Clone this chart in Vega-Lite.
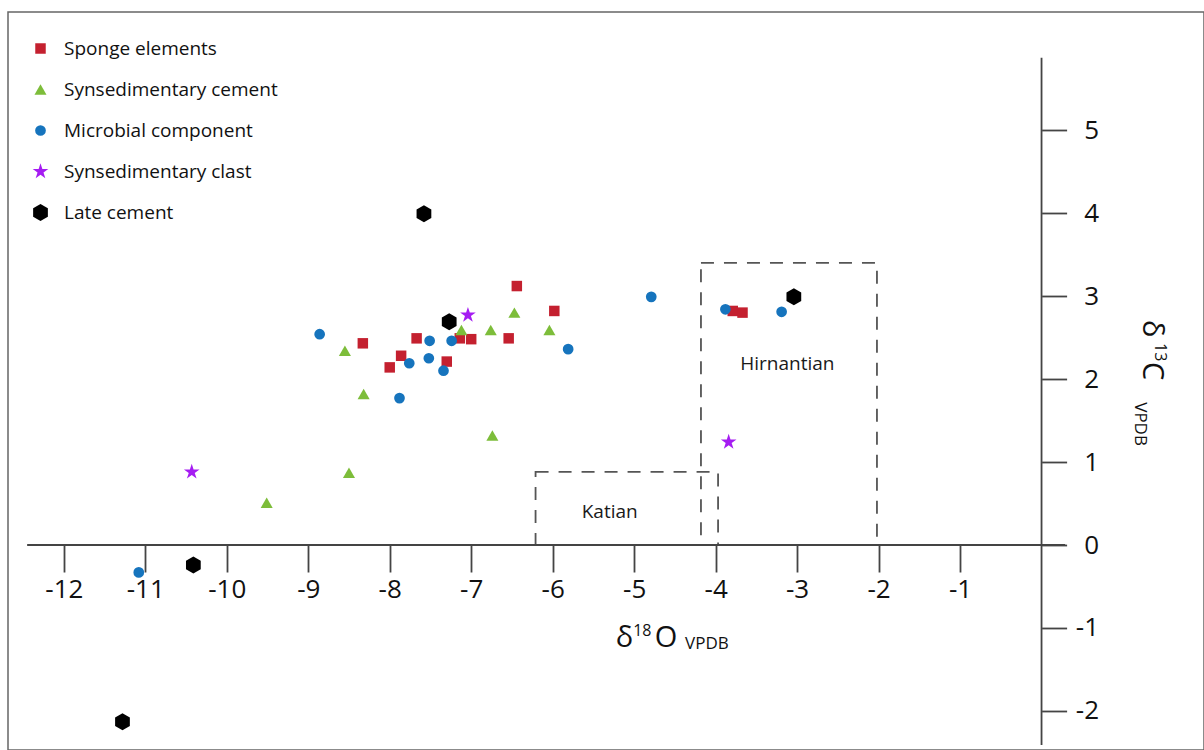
{
  "$schema": "https://vega.github.io/schema/vega-lite/v6.json",
  "width": 1196,
  "height": 738,
  "autosize": "none",
  "padding": {"left": 8, "top": 12, "right": 0, "bottom": 0},
  "background": "white",
  "config": {
    "view": {"stroke": "#666666", "strokeWidth": 1.5},
    "font": "Open Sans",
    "legend": {
      "orient": "none",
      "legendX": 23,
      "legendY": 27,
      "title": null,
      "labelFont": "Open Sans",
      "labelFontSize": 19,
      "labelColor": "#111111",
      "labelLimit": 400,
      "rowPadding": 21,
      "labelOffset": 14,
      "symbolStrokeWidth": 0,
      "symbolOpacity": 1
    }
  },
  "datasets": {
    "pts": [
      {"type": "Sponge elements", "x": -6.44, "y": 3.12},
      {"type": "Sponge elements", "x": -5.98, "y": 2.82},
      {"type": "Sponge elements", "x": -8.33, "y": 2.43},
      {"type": "Sponge elements", "x": -7.67, "y": 2.49},
      {"type": "Sponge elements", "x": -7.86, "y": 2.28},
      {"type": "Sponge elements", "x": -8.0, "y": 2.14},
      {"type": "Sponge elements", "x": -7.3, "y": 2.21},
      {"type": "Sponge elements", "x": -7.14, "y": 2.49},
      {"type": "Sponge elements", "x": -7.0, "y": 2.48},
      {"type": "Sponge elements", "x": -6.54, "y": 2.49},
      {"type": "Sponge elements", "x": -3.79, "y": 2.82},
      {"type": "Sponge elements", "x": -3.67, "y": 2.8},
      {"type": "Synsedimentary cement", "x": -8.55, "y": 2.34},
      {"type": "Synsedimentary cement", "x": -8.32, "y": 1.82},
      {"type": "Synsedimentary cement", "x": -7.12, "y": 2.59},
      {"type": "Synsedimentary cement", "x": -6.76, "y": 2.59},
      {"type": "Synsedimentary cement", "x": -6.47, "y": 2.8},
      {"type": "Synsedimentary cement", "x": -6.04, "y": 2.59},
      {"type": "Synsedimentary cement", "x": -6.74, "y": 1.32},
      {"type": "Synsedimentary cement", "x": -8.5, "y": 0.87},
      {"type": "Synsedimentary cement", "x": -9.51, "y": 0.51},
      {"type": "Microbial component", "x": -8.86, "y": 2.54},
      {"type": "Microbial component", "x": -7.51, "y": 2.46},
      {"type": "Microbial component", "x": -7.24, "y": 2.46},
      {"type": "Microbial component", "x": -7.76, "y": 2.19},
      {"type": "Microbial component", "x": -7.52, "y": 2.25},
      {"type": "Microbial component", "x": -7.34, "y": 2.1},
      {"type": "Microbial component", "x": -7.88, "y": 1.77},
      {"type": "Microbial component", "x": -5.81, "y": 2.36},
      {"type": "Microbial component", "x": -4.79, "y": 2.99},
      {"type": "Microbial component", "x": -3.88, "y": 2.84},
      {"type": "Microbial component", "x": -3.19, "y": 2.81},
      {"type": "Microbial component", "x": -11.08, "y": -0.33},
      {"type": "Synsedimentary clast", "x": -7.04, "y": 2.77},
      {"type": "Synsedimentary clast", "x": -3.84, "y": 1.24},
      {"type": "Synsedimentary clast", "x": -10.43, "y": 0.88},
      {"type": "Late cement", "x": -7.58, "y": 3.99},
      {"type": "Late cement", "x": -7.27, "y": 2.69},
      {"type": "Late cement", "x": -3.04, "y": 2.99},
      {"type": "Late cement", "x": -10.41, "y": -0.24},
      {"type": "Late cement", "x": -11.28, "y": -2.13}
    ],
    "boxes": [
      {"period": "Katian", "x": -6.21, "x2": -3.97, "y": 0, "y2": 0.88},
      {"period": "Hirnantian", "x": -4.18, "x2": -2.02, "y": 0, "y2": 3.4}
    ],
    "hline": [{"x": -12.45, "x2": 0.29, "y": 0}],
    "vline": [{"x": 0, "y": -2.41, "y2": 5.87}],
    "labels": [
      {"kind": "period", "text": "Katian", "x": -5.3, "y": 0.4},
      {"kind": "period", "text": "Hirnantian", "x": -3.12, "y": 2.18},
      {"kind": "big", "text": "δ", "x": -5.225, "y": -1.229},
      {"kind": "big", "text": "O", "x": -4.746, "y": -1.229},
      {"kind": "sup", "text": "18", "x": -5.012, "y": -1.1},
      {"kind": "sub", "text": "VPDB", "x": -4.375, "y": -1.253},
      {"kind": "ybig", "text": "δ", "x": 1.245, "y": 2.71},
      {"kind": "ybig", "text": "C", "x": 1.245, "y": 2.205},
      {"kind": "ysup", "text": "13", "x": 1.39, "y": 2.434},
      {"kind": "ysub", "text": "VPDB", "x": 1.15, "y": 1.72}
    ]
  },
  "layer": [
    {
      "data": {"name": "boxes"},
      "mark": {"type": "rect", "fillOpacity": 0, "stroke": "#555555", "strokeWidth": 1.8, "strokeDash": [13, 10]},
      "encoding": {
        "x": {"field": "x", "type": "quantitative", "scale": {"domain": [-12.685, 1.994], "nice": false, "zero": false}},
        "x2": {"field": "x2"},
        "y": {"field": "y", "type": "quantitative", "scale": {"domain": [-2.47, 6.422], "nice": false, "zero": false}},
        "y2": {"field": "y2"}
      }
    },
    {
      "data": {"name": "hline"},
      "mark": {"type": "rule", "color": "#444444", "strokeWidth": 1.8},
      "encoding": {
        "x": {"field": "x", "type": "quantitative"},
        "x2": {"field": "x2"},
        "y": {"field": "y", "type": "quantitative"}
      }
    },
    {
      "data": {"name": "vline"},
      "mark": {"type": "rule", "color": "#444444", "strokeWidth": 1.8},
      "encoding": {
        "x": {"field": "x", "type": "quantitative"},
        "y": {"field": "y", "type": "quantitative"},
        "y2": {"field": "y2"}
      }
    },
    {
      "data": {"name": "pts"},
      "mark": {"type": "point", "filled": true, "opacity": 1, "strokeWidth": 0},
      "encoding": {
        "x": {
          "field": "x", "type": "quantitative",
          "scale": {"domain": [-12.685, 1.994], "nice": false, "zero": false},
          "axis": {
            "title": null, "orient": "bottom", "offset": -205, "domain": false, "grid": false,
            "values": [-12, -11, -10, -9, -8, -7, -6, -5, -4, -3, -2, -1],
            "tickSize": 27, "tickColor": "#444444", "tickWidth": 1.8,
            "labelFont": "Open Sans", "labelFontSize": 26, "labelColor": "#111111",
            "labelPadding": 4, "labelExpr": "'' + datum.value"
          }
        },
        "y": {
          "field": "y", "type": "quantitative",
          "scale": {"domain": [-2.47, 6.422], "nice": false, "zero": false},
          "axis": {
            "title": null, "orient": "right", "offset": -162.4, "domain": false, "grid": false,
            "values": [-2, -1, 0, 1, 2, 3, 4, 5],
            "tickSize": 25, "tickColor": "#444444", "tickWidth": 1.8,
            "labelFont": "Open Sans", "labelFontSize": 26, "labelColor": "#111111",
            "labelAlign": "right", "labelPadding": 32, "labelBaseline": "middle",
            "labelExpr": "'' + datum.value"
          }
        },
        "color": {
          "field": "type", "type": "nominal",
          "scale": {
            "domain": ["Sponge elements", "Synsedimentary cement", "Microbial component", "Synsedimentary clast", "Late cement"],
            "range": ["#c4202f", "#7dbd3a", "#1674bd", "#a51cf2", "#000000"]
          }
        },
        "shape": {
          "field": "type", "type": "nominal",
          "scale": {
            "domain": ["Sponge elements", "Synsedimentary cement", "Microbial component", "Synsedimentary clast", "Late cement"],
            "range": ["square", "triangle-up", "circle", "M0,-1L0.2245,-0.309L0.951,-0.309L0.363,0.118L0.588,0.809L0,0.382L-0.588,0.809L-0.363,0.118L-0.951,-0.309L-0.2245,-0.309Z", "M0,-1L0.866,-0.5L0.866,0.5L0,1L-0.866,0.5L-0.866,-0.5Z"]
          }
        },
        "size": {
          "field": "type", "type": "nominal",
          "scale": {
            "type": "ordinal",
            "domain": ["Sponge elements", "Synsedimentary cement", "Microbial component", "Synsedimentary clast", "Late cement"],
            "range": [110, 145, 115, 270, 290]
          }
        }
      }
    },
    {
      "data": {"name": "labels"},
      "transform": [{"filter": "datum.kind == 'period'"}],
      "mark": {"type": "text", "font": "Open Sans", "fontSize": 19, "color": "#1a1a1a", "align": "center", "baseline": "middle"},
      "encoding": {
        "x": {"field": "x", "type": "quantitative"},
        "y": {"field": "y", "type": "quantitative"},
        "text": {"field": "text"}
      }
    },
    {
      "data": {"name": "labels"},
      "transform": [{"filter": "datum.kind == 'big'"}],
      "mark": {"type": "text", "font": "Open Sans", "fontSize": 29, "color": "#111111", "align": "left", "baseline": "alphabetic"},
      "encoding": {
        "x": {"field": "x", "type": "quantitative"},
        "y": {"field": "y", "type": "quantitative"},
        "text": {"field": "text"}
      }
    },
    {
      "data": {"name": "labels"},
      "transform": [{"filter": "datum.kind == 'sup'"}],
      "mark": {"type": "text", "font": "Open Sans", "fontSize": 16, "color": "#111111", "align": "left", "baseline": "alphabetic"},
      "encoding": {
        "x": {"field": "x", "type": "quantitative"},
        "y": {"field": "y", "type": "quantitative"},
        "text": {"field": "text"}
      }
    },
    {
      "data": {"name": "labels"},
      "transform": [{"filter": "datum.kind == 'sub'"}],
      "mark": {"type": "text", "font": "Open Sans", "fontSize": 17, "color": "#111111", "align": "left", "baseline": "alphabetic"},
      "encoding": {
        "x": {"field": "x", "type": "quantitative"},
        "y": {"field": "y", "type": "quantitative"},
        "text": {"field": "text"}
      }
    },
    {
      "data": {"name": "labels"},
      "transform": [{"filter": "datum.kind == 'ybig'"}],
      "mark": {"type": "text", "font": "Open Sans", "fontSize": 29, "color": "#111111", "align": "left", "baseline": "alphabetic", "angle": 90},
      "encoding": {
        "x": {"field": "x", "type": "quantitative"},
        "y": {"field": "y", "type": "quantitative"},
        "text": {"field": "text"}
      }
    },
    {
      "data": {"name": "labels"},
      "transform": [{"filter": "datum.kind == 'ysup'"}],
      "mark": {"type": "text", "font": "Open Sans", "fontSize": 16, "color": "#111111", "align": "left", "baseline": "alphabetic", "angle": 90},
      "encoding": {
        "x": {"field": "x", "type": "quantitative"},
        "y": {"field": "y", "type": "quantitative"},
        "text": {"field": "text"}
      }
    },
    {
      "data": {"name": "labels"},
      "transform": [{"filter": "datum.kind == 'ysub'"}],
      "mark": {"type": "text", "font": "Open Sans", "fontSize": 17, "color": "#111111", "align": "left", "baseline": "alphabetic", "angle": 90},
      "encoding": {
        "x": {"field": "x", "type": "quantitative"},
        "y": {"field": "y", "type": "quantitative"},
        "text": {"field": "text"}
      }
    }
  ]
}
